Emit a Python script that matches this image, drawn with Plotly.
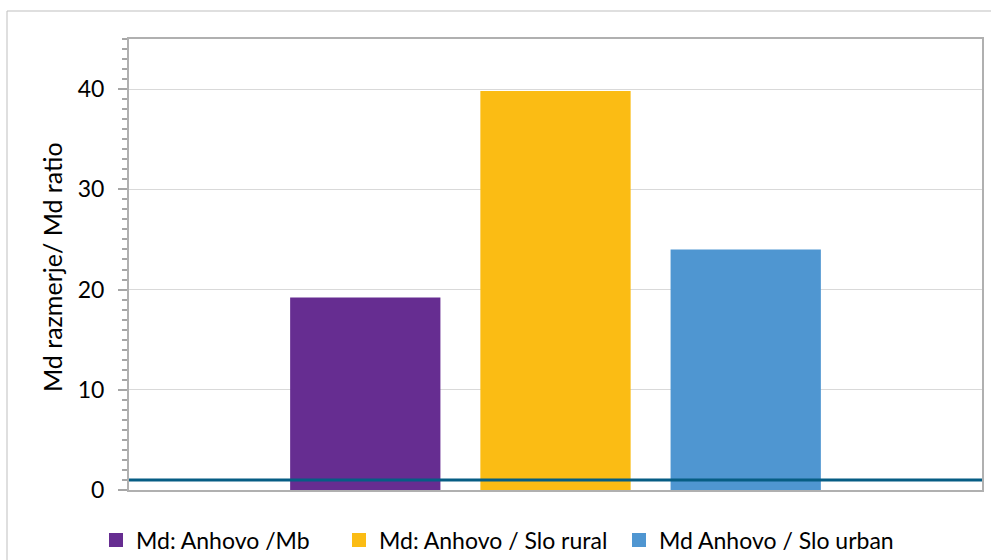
import plotly.graph_objects as go

series_names = ["Md: Anhovo /Mb", "Md: Anhovo / Slo rural", "Md Anhovo / Slo urban"]
series_values = [19.2, 39.8, 24.0]
series_colors = ["#662D91", "#FBBC14", "#4F96D1"]
category = [""]
reference_level = 1
y_ticks = [0, 10, 20, 30, 40]
y_title = "Md razmerje/ Md ratio"

PL, PR, PT, PB = 129, 982, 39, 490
W, H = 991, 560
pw, ph = PR - PL, PB - PT
legend_left_px = [96, 339, 619]
legend_ids = ["legend", "legend2", "legend3"]

fig = go.Figure()
for name, val, col, lg in zip(series_names, series_values, series_colors, legend_ids):
    fig.add_trace(go.Bar(x=category, y=[val], name=name, showlegend=False,
                         marker=dict(color=col, line=dict(width=0))))
    fig.add_trace(go.Scatter(x=[None], y=[None], mode="markers", name=name, legend=lg,
                             marker=dict(symbol="square", size=14, color=col)))

fig.add_shape(type="line", xref="paper", yref="y", x0=0, x1=1, y0=reference_level, y1=reference_level,
              line=dict(color="#065D84", width=3), layer="above")

fig.add_shape(type="rect", xref="paper", yref="paper",
              x0=(7 - PL) / pw, x1=(1000 - PL) / pw, y0=-(H - PB + 10) / ph, y1=1 + (PT - 11) / ph,
              line=dict(color="#BFBFBF", width=1), fillcolor="rgba(0,0,0,0)", layer="below")

fig.add_annotation(text=y_title, xref="paper", yref="paper", x=(52 - PL) / pw, y=1 - (267 - PT) / ph,
                   xanchor="center", yanchor="middle", textangle=-90, showarrow=False,
                   font=dict(size=25, color="#000000"))

legend_common = dict(orientation="h", y=-50 / ph, yanchor="middle", xanchor="left",
                     font=dict(size=23), itemwidth=30, bgcolor="rgba(0,0,0,0)", itemsizing="trace")

fig.update_layout(
    width=W, height=H,
    margin=dict(l=PL, r=W - PR, t=PT, b=H - PB, autoexpand=False),
    paper_bgcolor="white", plot_bgcolor="white",
    barmode="group", bargap=0.331, bargroupgap=0.21,
    font=dict(family="Lato, Open Sans, sans-serif", size=23, color="#000000"),
    showlegend=True,
    legend=dict(x=(legend_left_px[0] - PL) / pw, **legend_common),
    legend2=dict(x=(legend_left_px[1] - PL) / pw, **legend_common),
    legend3=dict(x=(legend_left_px[2] - PL) / pw, **legend_common),
    xaxis=dict(showticklabels=False, showline=True, linecolor="#B0B0B0", linewidth=2, mirror=True,
               ticks="", showgrid=False, zeroline=False),
    yaxis=dict(range=[0, 45], tickvals=y_ticks, ticks="outside", ticklen=9, tickcolor="#A6A6A6",
               tickwidth=1.5, showline=True, linecolor="#B0B0B0", linewidth=2, mirror=True,
               showgrid=True, gridcolor="#D9D9D9", gridwidth=1, zeroline=False,
               minor=dict(dtick=1, ticks="outside", ticklen=5, tickcolor="#A6A6A6", showgrid=False),
               ticklabelstandoff=9,
               tickfont=dict(size=23)),
)

fig.write_html("out.html", config={"displayModeBar": False},
               post_script="document.body.style.margin='0';document.body.style.padding='0';")
